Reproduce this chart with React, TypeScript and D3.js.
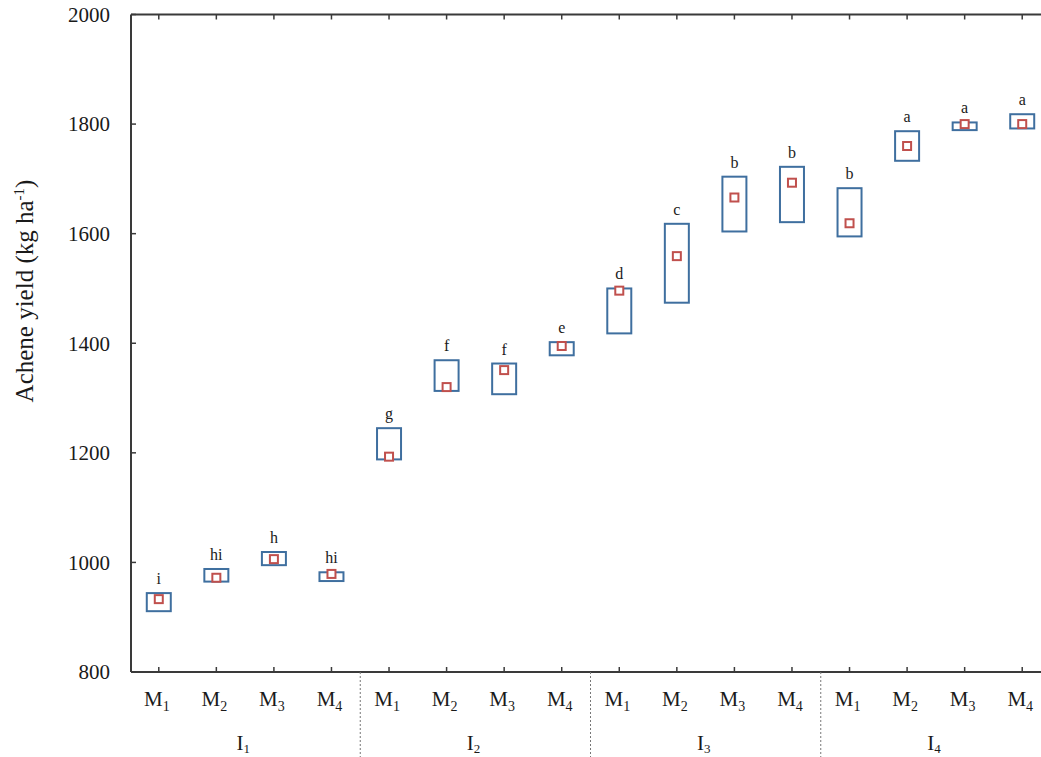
import React from 'react';
import * as d3 from 'd3';

const groups = ['I1', 'I2', 'I3', 'I4'];
const treatments = ['M1', 'M2', 'M3', 'M4'];
const means = [933, 972, 1006, 979, 1193, 1320, 1351, 1395, 1496, 1559, 1666, 1693, 1619, 1760, 1800, 1800];
const upper = [944, 988, 1019, 982, 1245, 1369, 1363, 1402, 1500, 1618, 1704, 1722, 1683, 1787, 1803, 1818];
const lower = [911, 965, 995, 966, 1188, 1313, 1307, 1378, 1418, 1474, 1604, 1621, 1595, 1733, 1789, 1792];
const letters = ['i', 'hi', 'h', 'hi', 'g', 'f', 'f', 'e', 'd', 'c', 'b', 'b', 'b', 'a', 'a', 'a'];
const yTicks = [800, 1000, 1200, 1400, 1600, 1800, 2000];

const W = 1041;
const H = 757;
const font = "'Liberation Serif', 'DejaVu Serif', serif";

export default function App() {
  const keys = groups.flatMap(g => treatments.map(t => `${g}-${t}`));
  const x = d3.scaleBand().domain(keys).range([130, 1051]);
  const y = d3.scaleLinear().domain([800, 2000]).range([672, 14.5]);
  const left = 131;
  const bottom = y(800);
  const top = y(2000);
  const boxW = 24;
  const axisColor = '#3a3a3a';
  const textColor = '#1a1a1a';

  const cx = (i: number) => (x(keys[i]) as number) + x.bandwidth() / 2;

  return (
    <svg width={W} height={H} style={{ position: 'absolute', left: 0, top: 0, background: '#fff', fontFamily: font }}>
      {/* axes frame */}
      <line x1={left} x2={W} y1={top} y2={top} stroke={axisColor} strokeWidth={2} />
      <line x1={left} x2={W} y1={bottom} y2={bottom} stroke={axisColor} strokeWidth={2} />
      <line x1={left} x2={left} y1={top} y2={bottom} stroke={axisColor} strokeWidth={2} />

      {/* y ticks */}
      {yTicks.map(t => (
        <g key={t}>
          <line x1={left} x2={left + 5} y1={y(t)} y2={y(t)} stroke={axisColor} strokeWidth={1.5} />
          <text x={110} y={y(t)} dy="0.35em" textAnchor="end" fontSize={21} fill={textColor}>{t}</text>
        </g>
      ))}

      {/* category ticks on top and bottom */}
      {keys.map((k, i) => (
        <g key={k}>
          <line x1={cx(i)} x2={cx(i)} y1={top} y2={top + 5} stroke={axisColor} strokeWidth={1.5} />
          <line x1={cx(i)} x2={cx(i)} y1={bottom} y2={bottom - 5} stroke={axisColor} strokeWidth={1.5} />
          <text x={cx(i) - 2} y={706} textAnchor="middle" fontSize={21} fill={textColor}>
            M<tspan fontSize={14} dy={5}>{treatments[i % 4].slice(1)}</tspan>
          </text>
        </g>
      ))}

      {/* group labels and separators */}
      {groups.map((g, gi) => {
        const c = (cx(gi * 4) + cx(gi * 4 + 3)) / 2;
        return (
          <g key={g}>
            <text x={c - 2} y={750} textAnchor="middle" fontSize={21} fill={textColor}>
              I<tspan fontSize={13} dy={3}>{g.slice(1)}</tspan>
            </text>
            {gi > 0 && (
              <line
                x1={x(keys[gi * 4]) as number}
                x2={x(keys[gi * 4]) as number}
                y1={bottom}
                y2={H}
                stroke="#777"
                strokeWidth={1}
                strokeDasharray="2,2"
              />
            )}
          </g>
        );
      })}

      {/* range boxes */}
      {keys.map((k, i) => (
        <rect
          key={`box-${k}`}
          x={cx(i) - boxW / 2}
          y={y(upper[i])}
          width={boxW}
          height={y(lower[i]) - y(upper[i])}
          fill="none"
          stroke="#3f6f9f"
          strokeWidth={2}
        />
      ))}

      {/* mean markers */}
      {keys.map((k, i) => (
        <rect
          key={`m-${k}`}
          x={cx(i) - 4}
          y={y(means[i]) - 4}
          width={8}
          height={8}
          fill="#fff"
          stroke="#c0504d"
          strokeWidth={2}
        />
      ))}

      {/* significance letters */}
      {keys.map((k, i) => (
        <text key={`l-${k}`} x={cx(i)} y={y(upper[i]) - 9} textAnchor="middle" fontSize={16} fill={textColor}>
          {letters[i]}
        </text>
      ))}

      {/* y axis title */}
      <text
        transform={`translate(33, 291) rotate(-90)`}
        textAnchor="middle"
        fontSize={25}
        fill={textColor}
      >
        Achene yield (kg ha<tspan fontSize={15} dy={-9}>-1</tspan><tspan dy={9}>)</tspan>
      </text>
    </svg>
  );
}
